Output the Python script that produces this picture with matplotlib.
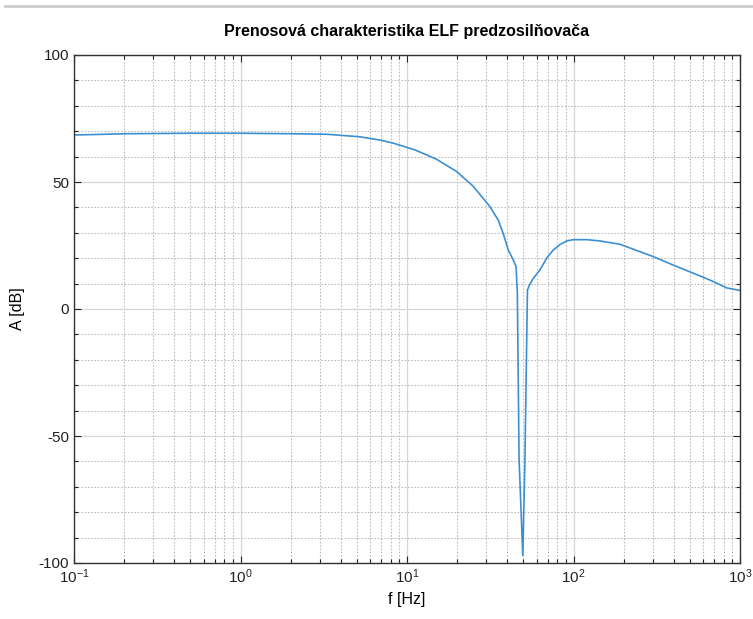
import numpy as np
import matplotlib
matplotlib.use("Agg")
import matplotlib.pyplot as plt
from matplotlib.ticker import MultipleLocator, LogLocator, NullFormatter
from matplotlib.lines import Line2D

plt.rcParams["font.family"] = ["Liberation Sans", "DejaVu Sans"]
plt.rcParams["axes.unicode_minus"] = False

title = "Prenosová charakteristika ELF predzosilňovača"
xlabel = "f [Hz]"
ylabel = "A [dB]"

freq = [0.1, 0.207, 0.5, 1.0, 2.0, 3.29, 5.22, 6.88, 8.27, 11.2, 15.0, 19.9,
        25.0, 31.5, 35.3, 37.8, 40.6, 43.5, 45.2, 46.0, 47.1, 49.6, 51.1, 52.9,
        55.0, 57.4, 62.9, 69.0, 75.6, 83.0, 91.0, 99.7, 120, 144, 190, 302, 397,
        524, 660, 832, 1000]
gain = [68.5, 69.0, 69.2, 69.2, 69.0, 68.8, 67.8, 66.5, 65.3, 62.6, 59.0, 54.1,
        48.3, 40.3, 35.0, 29.8, 23.2, 19.3, 16.7, 6.3, -59.0, -97.0, -59.0, 7.5,
        10.1, 12.1, 15.4, 20.0, 23.2, 25.4, 26.8, 27.3, 27.3, 26.8, 25.5, 20.6, 17.3,
        14.1, 11.4, 8.3, 7.3]

fig = plt.figure(figsize=(7.53, 6.19), dpi=100)
ax = fig.add_axes([74/753, 1-563/619, (740-74)/753, (563-55)/619])

ax.plot(freq, gain, color="#3d8fd1", linewidth=1.2)
ax.set_xscale("log")
ax.set_xlim(0.1, 1000)
ax.set_ylim(-100, 100)
ax.yaxis.set_major_locator(MultipleLocator(50))
ax.yaxis.set_minor_locator(MultipleLocator(10))
ax.xaxis.set_major_locator(LogLocator(base=10, numticks=10))
ax.xaxis.set_minor_locator(LogLocator(base=10, subs=np.arange(2, 10), numticks=50))
ax.xaxis.set_minor_formatter(NullFormatter())

ax.grid(True, which="major", color="#d6d6d6", linestyle="-", linewidth=0.9)
ax.grid(True, which="minor", color="#bdbdbd", linestyle=(0, (1.5, 1.5)), linewidth=0.8)
ax.set_axisbelow(True)

ax.tick_params(which="both", direction="in", top=True, right=True, labelsize=11, colors="#222222")
ax.tick_params(which="major", length=5, width=0.8)
ax.tick_params(which="minor", length=3, width=0.8)
for s in ax.spines.values():
    s.set_color("#333333")
    s.set_linewidth(1.0)

ax.set_title(title, fontsize=11.5, fontweight="bold", pad=14)
ax.set_xlabel(xlabel, fontsize=11.5, labelpad=4)
ax.set_ylabel(ylabel, fontsize=11.5, labelpad=10)

fig.add_artist(Line2D([5/753, 1], [1-6/619, 1-6/619], color="#cccccc", linewidth=2))

fig.savefig("out.png", dpi=100)
